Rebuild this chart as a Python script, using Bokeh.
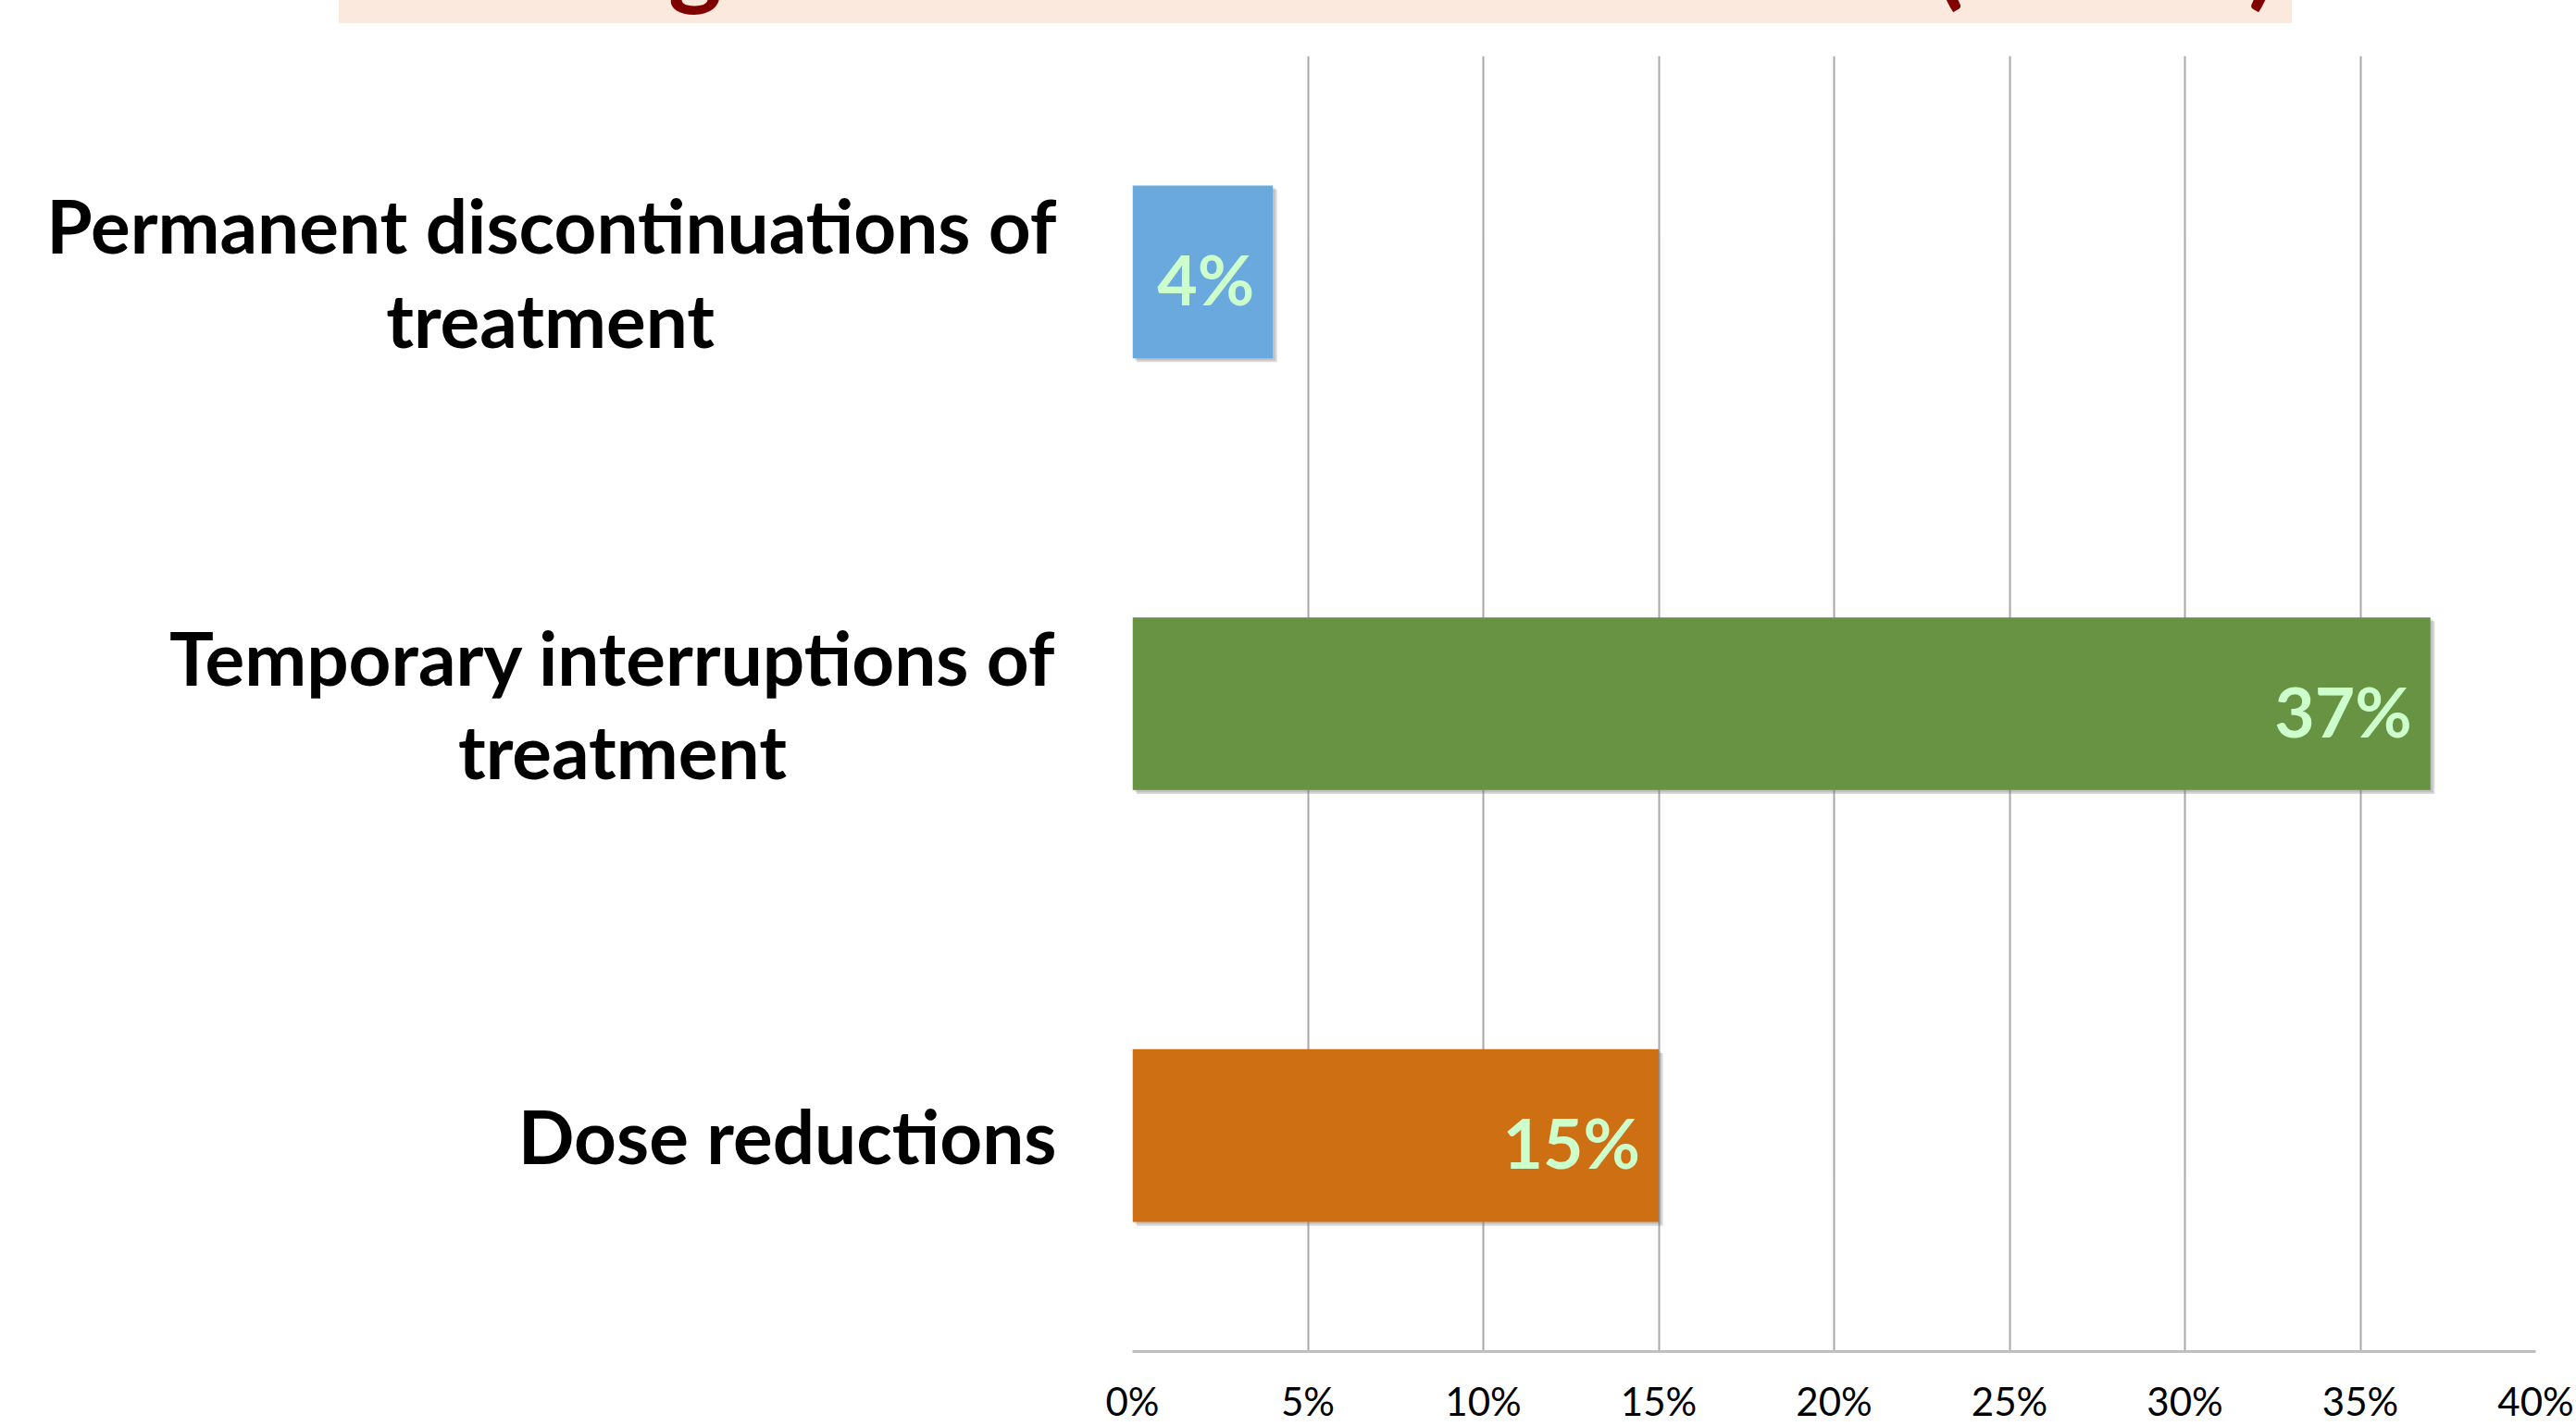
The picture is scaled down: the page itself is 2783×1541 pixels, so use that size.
import glob
import subprocess
from bokeh.plotting import figure
from bokeh.layouts import column
from bokeh.models import Range1d, FactorRange, ColumnDataSource, FixedTicker, Div
from bokeh.transform import dodge
from bokeh.core.properties import value
from bokeh.embed import file_html
from bokeh.resources import INLINE

# ---- data ----
categories = [
    "Dose reductions",
    "Temporary interruptions of\ntreatment",
    "Permanent discontinuations of\ntreatment",
]
percent_values = [15, 37, 4]
value_labels = ["15%", "37%", "4%"]
bar_colors = ["#cf6f13", "#679343", "#6aa9de"]
x_ticks = [0, 5, 10, 15, 20, 25, 30, 35, 40]
x_tick_labels = ["0%", "5%", "10%", "15%", "20%", "25%", "30%", "35%", "40%"]
title_fragments = ["g", "(", ")"]

W, H = 2783, 1541
BAND_H = 25
MAIN_H = H - BAND_H
FL, FR, FT, FB = 1223, 44, 60 - BAND_H, 78   # frame borders of the main figure
CAT_FONT_PX = 80
NBSP = "\u00a0"


def find_font_file(family, style, fname):
    try:
        out = subprocess.run(["fc-match", "-f", "%{file}", f"{family}:{style}"],
                             capture_output=True, text=True, timeout=10).stdout.strip()
        if out:
            return out
    except Exception:
        pass
    hits = glob.glob(f"/usr/share/fonts/**/{fname}", recursive=True)
    return hits[0] if hits else None


def text_width_fn(px):
    try:
        from PIL import ImageFont
        font = ImageFont.truetype(find_font_file("Lato", "bold", "Lato-Bold.ttf"), px)
        return font.getlength
    except Exception:
        return lambda s: len(s) * 0.5 * px


def centre_lines(label, px):
    """Pad shorter lines with no-break spaces so that right-aligned lines look centred."""
    tw = text_width_fn(px)
    lines = label.split("\n")
    wmax = max(tw(l) for l in lines)
    sp = tw(NBSP) or 0.193 * px
    out = []
    for l in lines:
        n = int(round((wmax - tw(l)) / 2 / sp))
        out.append(l + NBSP * n)
    return "\n".join(out)


display_factors = [centre_lines(c, CAT_FONT_PX) for c in categories]

# ---- clipped title band at the very top of the page ----
frag_x = [751, 2106, 2444]
spans = "".join(
    f'<span style="position:absolute;left:{cx - 100}px;top:-102px;width:200px;'
    f'text-align:center;font-family:Lato;font-weight:bold;font-size:110px;'
    f'line-height:110px;color:#800000;white-space:nowrap;">{frag}</span>'
    for frag, cx in zip(title_fragments, frag_x))
band_html = (
    f'<div style="position:relative;width:{W}px;height:{BAND_H}px;overflow:hidden;background:white;">'
    f'<div style="position:absolute;left:366px;top:0;width:2110px;height:{BAND_H}px;background:#fce9de;"></div>'
    f'{spans}</div>')
band = Div(text=band_html, width=W, height=BAND_H, margin=0)

# ---- main bar chart ----
src = ColumnDataSource(dict(cat=display_factors, val=percent_values, lab=value_labels, col=bar_colors))

y_range = FactorRange(*display_factors)
p = figure(width=W, height=MAIN_H, y_range=y_range, x_range=Range1d(0, 40),
           output_backend="svg", toolbar_location=None, margin=0,
           min_border_left=FL, min_border_right=FR, min_border_top=FT, min_border_bottom=FB)
p.outline_line_color = None
p.background_fill_color = "white"
p.border_fill_color = "white"

# soft drop shadow under the bars
p.hbar(y=dodge("cat", -0.009, range=y_range), right=dodge("val", 0.12), left=0.12, height=0.4,
       fill_color="#7a7a7a", fill_alpha=0.28, line_color=None, source=src)
p.hbar(y=dodge("cat", -0.005, range=y_range), right=dodge("val", 0.07), left=0.07, height=0.4,
       fill_color="#7a7a7a", fill_alpha=0.25, line_color=None, source=src)
p.hbar(y="cat", right="val", left=0, height=0.4, fill_color="col", line_color=None, source=src)
p.text(x="val", y="cat", text="lab", source=src, text_align="right", text_baseline="middle",
       x_offset=-20, y_offset=7, text_color="#ccffcc", text_font=value("Lato"),
       text_font_style="bold", text_font_size="75px")

p.ygrid.visible = False
p.xgrid.grid_line_color = "#a8a8a8"
p.xgrid.grid_line_width = 2
p.xgrid.ticker = FixedTicker(ticks=x_ticks)

xa = p.xaxis[0]
xa.ticker = FixedTicker(ticks=x_ticks)
xa.major_label_overrides = {tk: lb for tk, lb in zip(x_ticks, x_tick_labels)}
xa.axis_line_color = "#bfbfbf"
xa.axis_line_width = 3
xa.major_tick_line_color = None
xa.minor_tick_line_color = None
xa.major_tick_out = 0
xa.major_label_standoff = 28
xa.major_label_text_font = "Lato"
xa.major_label_text_font_size = "42px"
xa.major_label_text_color = "black"

ya = p.yaxis[0]
ya.axis_line_color = None
ya.major_tick_line_color = None
ya.minor_tick_line_color = None
ya.major_tick_out = 0
ya.major_label_standoff = 82
ya.major_label_text_font = "Lato"
ya.major_label_text_font_style = "bold"
ya.major_label_text_font_size = f"{CAT_FONT_PX}px"
ya.major_label_text_color = "black"
ya.major_label_text_line_height = 1.06

layout = column(band, p, spacing=0)
open("out.html", "w").write(file_html(layout, INLINE))
